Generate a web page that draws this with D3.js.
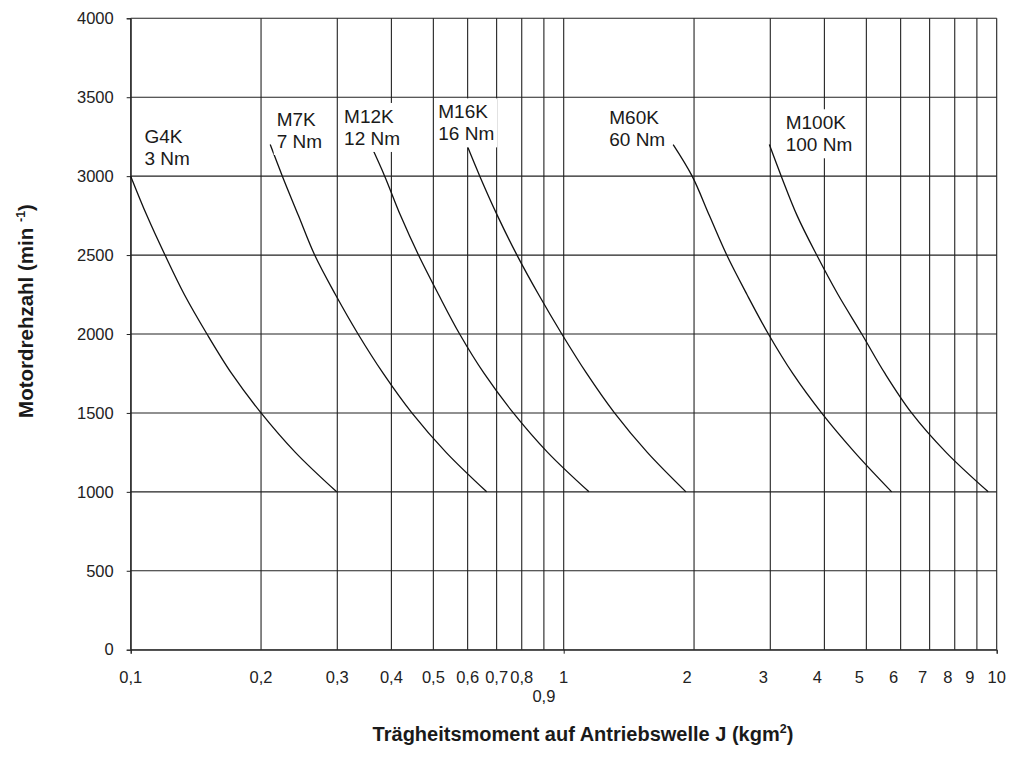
<!DOCTYPE html>
<html>
<head>
<meta charset="utf-8">
<script src="https://cdn.jsdelivr.net/npm/d3@7"></script>
<style>
  body { margin: 0; background: #fff; }
  svg { display: block; font-family: "Liberation Sans", Arial, Helvetica, sans-serif; }
</style>
</head>
<body>
<svg id="chart" width="1026" height="759"></svg>
<script>
const motors = ["G4K", "M7K", "M12K", "M16K", "M60K", "M100K"];
const torques = ["3 Nm", "7 Nm", "12 Nm", "16 Nm", "60 Nm", "100 Nm"];

// motor speed (min-1) and the inertia at that speed
const speeds = [3200, 3000, 2750, 2500, 2250, 2000, 1750, 1500, 1250, 1000];
const inertiaG4K  = [null, 0.100, 0.109, 0.120, 0.133, 0.150, 0.171, 0.200, 0.240, 0.299];
const inertiaM7K  = [0.210, 0.224, 0.244, 0.266, 0.297, 0.335, 0.383, 0.446, 0.535, 0.664];
const inertiaM12K = [0.358, 0.386, 0.420, 0.462, 0.514, 0.575, 0.655, 0.765, 0.918, 1.144];
const inertiaM16K = [0.597, 0.640, 0.703, 0.780, 0.875, 0.990, 1.130, 1.310, 1.560, 1.916];
const inertiaM60K = [1.79, 1.98, 2.17, 2.38, 2.65, 2.97, 3.38, 3.94, 4.70, 5.72];
const inertiaM100K = [2.985, 3.18, 3.46, 3.84, 4.30, 4.88, 5.52, 6.36, 7.64, 9.56];

const xTicks = [0.1, 0.2, 0.3, 0.4, 0.5, 0.6, 0.7, 0.8, 0.9, 1, 2, 3, 4, 5, 6, 7, 8, 9, 10];
const xTickLabels = ["0,1", "0,2", "0,3", "0,4", "0,5", "0,6", "0,7", "0,8", "0,9", "1", "2", "3", "4", "5", "6", "7", "8", "9", "10"];
const yTicks = [0, 500, 1000, 1500, 2000, 2500, 3000, 3500, 4000];

// where each curve label sits, in chart units (J, rpm of first baseline)
const labelAt = [[0.1076, 3210], [0.2174, 3318], [0.311, 3337], [0.5133, 3366], [1.274, 3330], [3.256, 3297]];

const series = [inertiaG4K, inertiaM7K, inertiaM12K, inertiaM16K, inertiaM60K, inertiaM100K];

const svg = d3.select("#chart");
const plotLeft = 130.7, plotRight = 996.7, plotTop = 18.3, plotBottom = 649.7;

const x = d3.scaleLog().domain([0.1, 10]).range([plotLeft, plotRight]);
const y = d3.scaleLinear().domain([0, 4000]).range([plotBottom, plotTop]);

const gridColor = "#222";

// grid
svg.append("g")
  .selectAll("line")
  .data(yTicks)
  .enter()
  .append("line")
  .attr("x1", plotLeft)
  .attr("x2", plotRight)
  .attr("y1", d => y(d))
  .attr("y2", d => y(d))
  .attr("stroke", gridColor)
  .attr("stroke-width", 1.1);

svg.append("g")
  .selectAll("line")
  .data(xTicks)
  .enter()
  .append("line")
  .attr("x1", d => x(d))
  .attr("x2", d => x(d))
  .attr("y1", plotTop)
  .attr("y2", plotBottom)
  .attr("stroke", gridColor)
  .attr("stroke-width", 1.1);

// axes
const yAxis = svg.append("g")
  .attr("transform", `translate(${plotLeft},0)`)
  .call(d3.axisLeft(y).tickValues(yTicks).tickSize(4).tickPadding(13).tickFormat(d => d));
yAxis.select(".domain").attr("stroke", gridColor);
yAxis.selectAll(".tick line").attr("stroke", gridColor);
yAxis.selectAll(".tick text")
  .attr("font-size", 16.5)
  .attr("font-family", "Liberation Sans, Arial, sans-serif")
  .attr("fill", "#222");

const xAxis = svg.append("g")
  .attr("transform", `translate(0,${plotBottom})`)
  .call(d3.axisBottom(x).tickValues([0.1, 1, 10]).tickSize(4).tickFormat(""));
xAxis.select(".domain").attr("stroke", gridColor);
xAxis.selectAll(".tick line").attr("stroke", gridColor);

svg.append("g")
  .selectAll("text")
  .data(xTicks)
  .enter()
  .append("text")
  .attr("x", d => x(d) + (d >= 2 && d <= 9 ? -7 : 0))
  .attr("y", d => d === 0.9 ? plotBottom + 52 : plotBottom + 33)
  .attr("text-anchor", "middle")
  .attr("font-size", 16.5)
  .attr("fill", "#222")
  .text((d, i) => xTickLabels[i]);

// curves
const line = d3.line()
  .defined(d => d[0] != null)
  .curve(d3.curveCatmullRom.alpha(0.5))
  .x(d => x(d[0]))
  .y(d => y(d[1]));

series.forEach(s => {
  const pts = s.map((j, i) => [j, speeds[i]]);
  svg.append("path")
    .datum(pts)
    .attr("d", line)
    .attr("fill", "none")
    .attr("stroke", "#111")
    .attr("stroke-width", 1.3);
});

// curve labels with white box behind
motors.forEach((m, i) => {
  const g = svg.append("g");
  const t = g.append("text")
    .attr("x", x(labelAt[i][0]))
    .attr("y", y(labelAt[i][1]))
    .attr("font-size", 19)
    .attr("fill", "#1a1a1a");
  t.append("tspan").attr("x", x(labelAt[i][0])).text(m);
  t.append("tspan").attr("x", x(labelAt[i][0])).attr("dy", 22).text(torques[i]);
  const bb = t.node().getBBox();
  g.insert("rect", "text")
    .attr("x", bb.x - 3)
    .attr("y", bb.y - 3)
    .attr("width", bb.width + 6)
    .attr("height", bb.height + 6)
    .attr("fill", "#fff");
});

// axis titles
const xTitle = svg.append("text")
  .attr("x", 583)
  .attr("y", 741)
  .attr("text-anchor", "middle")
  .attr("font-size", 20)
  .attr("font-weight", "bold")
  .attr("fill", "#1a1a1a");
xTitle.append("tspan").text("Trägheitsmoment auf Antriebswelle J (kgm");
xTitle.append("tspan").attr("font-size", 12.5).attr("dy", -8).text("2");
xTitle.append("tspan").attr("dy", 8).text(")");

const yTitle = svg.append("text")
  .attr("transform", "translate(33,311) rotate(-90)")
  .attr("text-anchor", "middle")
  .attr("font-size", 20.5)
  .attr("font-weight", "bold")
  .attr("fill", "#1a1a1a");
yTitle.append("tspan").text("Motordrehzahl (min ");
yTitle.append("tspan").attr("font-size", 12.5).attr("dy", -8).text("-1");
yTitle.append("tspan").attr("dy", 8).text(")");
</script>
</body>
</html>
